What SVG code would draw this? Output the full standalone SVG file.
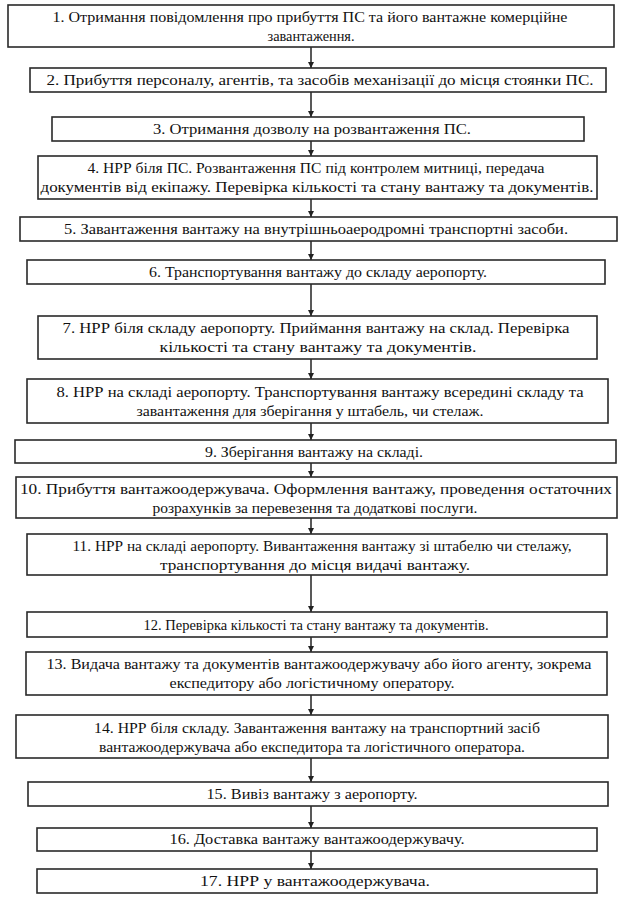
<svg xmlns="http://www.w3.org/2000/svg" width="619" height="897" viewBox="0 0 619 897">
<style>
.box{fill:#fff;stroke:#2a2a2a;stroke-width:1.6}
.t{font-family:'Liberation Serif','Times New Roman','DejaVu Serif','Noto Serif',serif;font-size:14.5px;fill:#111;text-anchor:middle}
.c{stroke:#222;stroke-width:1.5;fill:none;marker-end:url(#ah)}
</style>
<defs>
<marker id="ah" viewBox="0 0 8 8" refX="8" refY="4" markerWidth="6" markerHeight="6" markerUnits="userSpaceOnUse" orient="auto">
<path d="M0,0 L8,4 L0,8 z" fill="#222"/>
</marker>
</defs>
<rect width="619" height="897" fill="#fff"/>
<g id="connectors">
<line class="c" x1="311" y1="47" x2="311" y2="68"/>
<line class="c" x1="311" y1="92" x2="311" y2="117"/>
<line class="c" x1="311" y1="141" x2="311" y2="156"/>
<line class="c" x1="311" y1="199" x2="311" y2="217"/>
<line class="c" x1="311" y1="241" x2="311" y2="260"/>
<line class="c" x1="311" y1="284" x2="311" y2="316"/>
<line class="c" x1="311" y1="359" x2="311" y2="379"/>
<line class="c" x1="311" y1="423" x2="311" y2="440"/>
<line class="c" x1="311" y1="463" x2="311" y2="477"/>
<line class="c" x1="311" y1="518" x2="311" y2="534"/>
<line class="c" x1="311" y1="575" x2="311" y2="612"/>
<line class="c" x1="311" y1="637" x2="311" y2="652"/>
<line class="c" x1="311" y1="695" x2="311" y2="715"/>
<line class="c" x1="311" y1="758" x2="311" y2="782"/>
<line class="c" x1="311" y1="806" x2="311" y2="828"/>
<line class="c" x1="311" y1="851" x2="311" y2="869"/>
</g>
<g id="n1" font-family="Liberation Serif, serif"><rect class="box" x="8" y="5" width="606" height="42"/><text class="t" x="310" y="22" textLength="515" lengthAdjust="spacingAndGlyphs">1. Отримання повідомлення про прибуття ПС та його вантажне комерційне</text><text class="t" x="311" y="41" textLength="87" lengthAdjust="spacingAndGlyphs">завантаження.</text></g>
<g id="n2"><rect class="box" x="30" y="68" width="576" height="24"/><text class="t" x="320" y="85" textLength="547" lengthAdjust="spacingAndGlyphs">2. Прибуття персоналу, агентів, та засобів механізації до місця стоянки ПС.</text></g>
<g id="n3"><rect class="box" x="52" y="117" width="532" height="24"/><text class="t" x="312" y="134" textLength="318" lengthAdjust="spacingAndGlyphs">3. Отримання дозволу на розвантаження ПС.</text></g>
<g id="n4"><rect class="box" x="38" y="156" width="559" height="43"/><text class="t" x="316" y="173" textLength="457" lengthAdjust="spacingAndGlyphs">4. НРР біля ПС. Розвантаження ПС під контролем митниці, передача</text><text class="t" x="317" y="192" textLength="553" lengthAdjust="spacingAndGlyphs">документів від екіпажу. Перевірка кількості та стану вантажу та документів.</text></g>
<g id="n5"><rect class="box" x="20" y="217" width="597" height="24"/><text class="t" x="316" y="234" textLength="504" lengthAdjust="spacingAndGlyphs">5. Завантаження вантажу на внутрішньоаеродромні транспортні засоби.</text></g>
<g id="n6"><rect class="box" x="27" y="260" width="578" height="24"/><text class="t" x="318" y="277" textLength="338" lengthAdjust="spacingAndGlyphs">6. Транспортування вантажу до складу аеропорту.</text></g>
<g id="n7"><rect class="box" x="38" y="316" width="559" height="43"/><text class="t" x="316" y="333" textLength="507" lengthAdjust="spacingAndGlyphs">7. НРР біля складу аеропорту. Приймання вантажу на склад. Перевірка</text><text class="t" x="318" y="352" textLength="317" lengthAdjust="spacingAndGlyphs">кількості та стану вантажу та документів.</text></g>
<g id="n8"><rect class="box" x="27" y="379" width="581" height="44"/><text class="t" x="320" y="397" textLength="527" lengthAdjust="spacingAndGlyphs">8. НРР на складі аеропорту. Транспортування вантажу всередині складу та</text><text class="t" x="310" y="416" textLength="347" lengthAdjust="spacingAndGlyphs">завантаження для зберігання у штабель, чи стелаж.</text></g>
<g id="n9"><rect class="box" x="15" y="440" width="601" height="23"/><text class="t" x="314" y="457" textLength="218" lengthAdjust="spacingAndGlyphs">9. Зберігання вантажу на складі.</text></g>
<g id="n10"><rect class="box" x="16" y="477" width="601" height="41"/><text class="t" x="316" y="494" textLength="592" lengthAdjust="spacingAndGlyphs">10. Прибуття вантажоодержувача. Оформлення вантажу, проведення остаточних</text><text class="t" x="315" y="513" textLength="325" lengthAdjust="spacingAndGlyphs">розрахунків за перевезення та додаткові послуги.</text></g>
<g id="n11"><rect class="box" x="27" y="534" width="580" height="41"/><text class="t" x="322" y="551" textLength="499" lengthAdjust="spacingAndGlyphs">11. НРР на складі аеропорту. Вивантаження вантажу зі штабелю чи стелажу,</text><text class="t" x="315" y="570" textLength="310" lengthAdjust="spacingAndGlyphs">транспортування до місця видачі вантажу.</text></g>
<g id="n12"><rect class="box" x="27" y="612" width="580" height="25"/><text class="t" x="316" y="630" textLength="345" lengthAdjust="spacingAndGlyphs">12. Перевірка кількості та стану вантажу та документів.</text></g>
<g id="n13"><rect class="box" x="26" y="652" width="581" height="43"/><text class="t" x="319" y="669" textLength="545" lengthAdjust="spacingAndGlyphs">13. Видача вантажу та документів вантажоодержувачу або його агенту, зокрема</text><text class="t" x="312" y="688" textLength="285" lengthAdjust="spacingAndGlyphs">експедитору або логістичному оператору.</text></g>
<g id="n14"><rect class="box" x="16" y="715" width="592" height="43"/><text class="t" x="317" y="733" textLength="446" lengthAdjust="spacingAndGlyphs">14. НРР біля складу. Завантаження вантажу на транспортний засіб</text><text class="t" x="312" y="752" textLength="426" lengthAdjust="spacingAndGlyphs">вантажоодержувача або експедитора та логістичного оператора.</text></g>
<g id="n15"><rect class="box" x="28" y="782" width="580" height="24"/><text class="t" x="312" y="799" textLength="211" lengthAdjust="spacingAndGlyphs">15. Вивіз вантажу з аеропорту.</text></g>
<g id="n16"><rect class="box" x="37" y="828" width="560" height="23"/><text class="t" x="317" y="844" textLength="295" lengthAdjust="spacingAndGlyphs">16. Доставка вантажу вантажоодержувачу.</text></g>
<g id="n17"><rect class="box" x="37" y="869" width="560" height="24"/><text class="t" x="315" y="886" textLength="230" lengthAdjust="spacingAndGlyphs">17. НРР у вантажоодержувача.</text></g>
</svg>
